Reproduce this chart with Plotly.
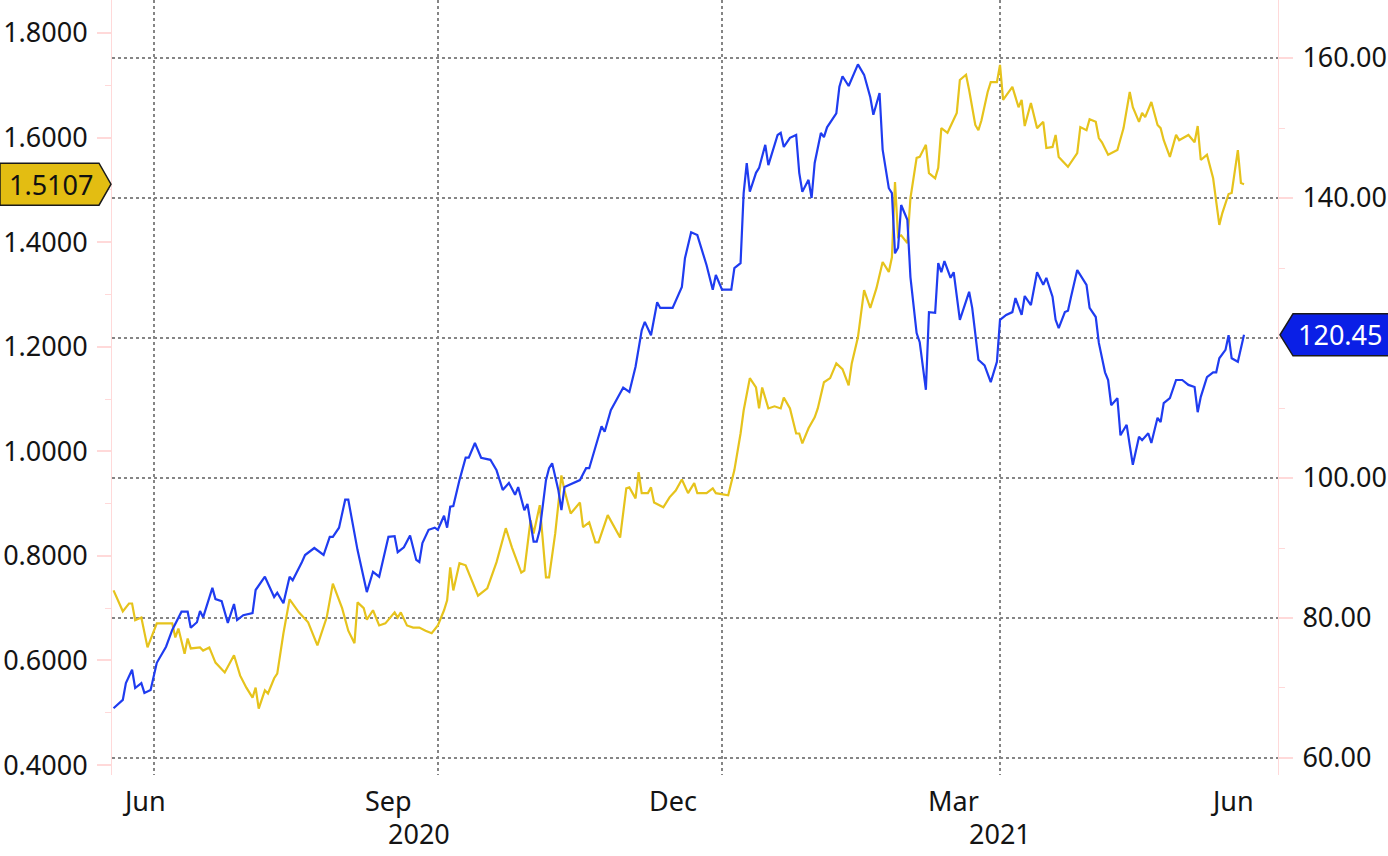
import plotly.graph_objects as go

# ---------------- data ----------------
blue_dates = ["2020-06-18","2020-06-21","2020-06-22","2020-06-24","2020-06-25","2020-06-27","2020-06-28","2020-06-30","2020-07-02","2020-07-05","2020-07-07","2020-07-10","2020-07-12","2020-07-13","2020-07-15","2020-07-16","2020-07-17","2020-07-20","2020-07-21","2020-07-23","2020-07-25","2020-07-27","2020-07-28","2020-07-30","2020-08-02","2020-08-03","2020-08-06","2020-08-09","2020-08-10","2020-08-12","2020-08-14","2020-08-15","2020-08-18","2020-08-19","2020-08-22","2020-08-25","2020-08-27","2020-08-28","2020-08-30","2020-09-01","2020-09-02","2020-09-05","2020-09-08","2020-09-10","2020-09-12","2020-09-15","2020-09-17","2020-09-18","2020-09-20","2020-09-22","2020-09-24","2020-09-25","2020-09-26","2020-09-28","2020-09-30","2020-10-01","2020-10-03","2020-10-04","2020-10-05","2020-10-06","2020-10-08","2020-10-10","2020-10-11","2020-10-13","2020-10-15","2020-10-18","2020-10-20","2020-10-22","2020-10-24","2020-10-26","2020-10-27","2020-10-29","2020-10-30","2020-11-01","2020-11-02","2020-11-03","2020-11-05","2020-11-06","2020-11-07","2020-11-09","2020-11-10","2020-11-11","2020-11-16","2020-11-18","2020-11-19","2020-11-21","2020-11-22","2020-11-23","2020-11-24","2020-11-26","2020-11-29","2020-11-30","2020-12-02","2020-12-04","2020-12-06","2020-12-07","2020-12-09","2020-12-11","2020-12-12","2020-12-16","2020-12-19","2020-12-20","2020-12-22","2020-12-24","2020-12-27","2020-12-29","2020-12-30","2021-01-01","2021-01-04","2021-01-05","2021-01-07","2021-01-08","2021-01-09","2021-01-10","2021-01-12","2021-01-13","2021-01-15","2021-01-16","2021-01-19","2021-01-20","2021-01-21","2021-01-23","2021-01-25","2021-01-26","2021-01-27","2021-01-29","2021-01-30","2021-01-31","2021-02-02","2021-02-03","2021-02-04","2021-02-07","2021-02-08","2021-02-09","2021-02-11","2021-02-14","2021-02-16","2021-02-18","2021-02-19","2021-02-21","2021-02-22","2021-02-24","2021-02-25","2021-02-26","2021-02-27","2021-02-28","2021-03-02","2021-03-03","2021-03-05","2021-03-06","2021-03-08","2021-03-09","2021-03-11","2021-03-12","2021-03-13","2021-03-14","2021-03-16","2021-03-17","2021-03-19","2021-03-22","2021-03-23","2021-03-25","2021-03-27","2021-03-29","2021-03-31","2021-04-01","2021-04-03","2021-04-05","2021-04-06","2021-04-08","2021-04-09","2021-04-11","2021-04-13","2021-04-15","2021-04-16","2021-04-18","2021-04-19","2021-04-20","2021-04-22","2021-04-23","2021-04-24","2021-04-26","2021-04-29","2021-04-30","2021-05-02","2021-05-03","2021-05-05","2021-05-06","2021-05-07","2021-05-09","2021-05-10","2021-05-12","2021-05-13","2021-05-14","2021-05-16","2021-05-17","2021-05-19","2021-05-20","2021-05-22","2021-05-23","2021-05-24","2021-05-26","2021-05-28","2021-05-30","2021-06-01","2021-06-03","2021-06-04","2021-06-05","2021-06-07","2021-06-09","2021-06-10","2021-06-11","2021-06-13","2021-06-14","2021-06-15","2021-06-17","2021-06-19"]
blue_values = [67.1,68.3,70.7,72.6,70.0,70.7,69.3,69.7,73.6,75.9,78.3,80.9,80.9,78.6,79.4,81.0,80.1,84.3,82.7,82.4,79.3,82.0,79.7,80.4,80.7,84.0,85.9,83.0,83.6,82.1,85.9,85.4,88.0,89.0,90.0,89.0,91.6,91.6,92.9,96.9,96.9,89.7,83.7,86.6,85.9,91.6,91.7,89.4,90.1,91.8,88.3,88.0,90.7,92.6,92.9,92.6,94.6,92.9,95.9,96.0,99.7,102.9,102.9,105.0,102.9,102.6,101.1,98.3,99.3,97.6,98.7,95.4,96.3,90.9,90.9,92.6,99.7,101.4,102.1,98.3,95.4,98.7,99.7,101.4,101.4,104.4,105.6,107.4,106.6,109.7,112.1,112.9,112.3,115.9,121.1,122.3,120.4,125.1,124.3,124.3,127.3,131.4,135.1,134.7,130.4,126.9,129.0,126.9,126.9,130.0,130.7,140.7,145.0,140.9,143.6,144.3,147.6,144.7,149.0,149.3,147.3,148.6,149.0,143.6,140.9,142.6,140.0,145.0,149.3,148.7,150.1,152.1,155.9,157.4,156.0,159.1,157.6,154.4,151.9,155.0,146.9,141.4,140.7,132.1,132.9,139.0,136.9,128.7,120.7,119.4,112.6,123.7,123.6,130.7,129.4,131.0,128.6,129.4,122.6,126.6,124.3,116.9,116.1,113.7,116.6,122.6,123.3,123.7,125.7,123.3,126.0,124.7,129.4,127.6,128.6,125.9,122.6,121.4,123.7,123.9,125.9,129.7,127.6,124.3,123.0,119.3,115.1,114.0,110.4,111.4,106.1,107.6,104.7,101.9,105.9,105.4,106.4,105.0,108.6,108.0,110.7,111.4,114.0,114.0,113.3,113.0,109.4,111.6,114.4,115.1,115.1,117.1,118.3,120.4,117.1,116.6,120.45]

yellow_dates = ["2020-06-18","2020-06-20","2020-06-21","2020-06-23","2020-06-24","2020-06-25","2020-06-27","2020-06-29","2020-07-01","2020-07-02","2020-07-05","2020-07-07","2020-07-08","2020-07-09","2020-07-11","2020-07-12","2020-07-13","2020-07-16","2020-07-17","2020-07-19","2020-07-21","2020-07-24","2020-07-27","2020-07-29","2020-07-31","2020-08-02","2020-08-03","2020-08-04","2020-08-06","2020-08-07","2020-08-09","2020-08-10","2020-08-12","2020-08-14","2020-08-17","2020-08-20","2020-08-23","2020-08-26","2020-08-28","2020-08-31","2020-09-02","2020-09-04","2020-09-05","2020-09-07","2020-09-08","2020-09-10","2020-09-12","2020-09-14","2020-09-17","2020-09-18","2020-09-19","2020-09-21","2020-09-23","2020-09-25","2020-09-27","2020-09-29","2020-10-01","2020-10-03","2020-10-04","2020-10-05","2020-10-06","2020-10-08","2020-10-10","2020-10-14","2020-10-17","2020-10-20","2020-10-23","2020-10-25","2020-10-28","2020-10-29","2020-10-31","2020-11-01","2020-11-03","2020-11-05","2020-11-06","2020-11-08","2020-11-10","2020-11-11","2020-11-13","2020-11-16","2020-11-17","2020-11-19","2020-11-21","2020-11-22","2020-11-25","2020-11-29","2020-12-01","2020-12-02","2020-12-04","2020-12-05","2020-12-06","2020-12-08","2020-12-09","2020-12-10","2020-12-13","2020-12-15","2020-12-17","2020-12-19","2020-12-21","2020-12-23","2020-12-24","2020-12-27","2020-12-29","2020-12-30","2021-01-03","2021-01-05","2021-01-07","2021-01-08","2021-01-10","2021-01-12","2021-01-13","2021-01-14","2021-01-16","2021-01-18","2021-01-20","2021-01-21","2021-01-23","2021-01-25","2021-01-26","2021-01-27","2021-01-29","2021-01-31","2021-02-01","2021-02-03","2021-02-05","2021-02-07","2021-02-09","2021-02-11","2021-02-12","2021-02-14","2021-02-16","2021-02-18","2021-02-20","2021-02-22","2021-02-24","2021-02-25","2021-02-26","2021-02-27","2021-02-28","2021-03-02","2021-03-03","2021-03-05","2021-03-06","2021-03-08","2021-03-09","2021-03-11","2021-03-12","2021-03-13","2021-03-15","2021-03-18","2021-03-19","2021-03-21","2021-03-22","2021-03-24","2021-03-25","2021-03-26","2021-03-28","2021-03-29","2021-03-31","2021-04-01","2021-04-02","2021-04-05","2021-04-07","2021-04-08","2021-04-09","2021-04-11","2021-04-13","2021-04-15","2021-04-16","2021-04-18","2021-04-19","2021-04-20","2021-04-23","2021-04-26","2021-04-27","2021-04-29","2021-04-30","2021-05-02","2021-05-03","2021-05-04","2021-05-06","2021-05-09","2021-05-11","2021-05-13","2021-05-14","2021-05-16","2021-05-17","2021-05-18","2021-05-20","2021-05-22","2021-05-23","2021-05-24","2021-05-26","2021-05-28","2021-05-29","2021-06-01","2021-06-03","2021-06-04","2021-06-05","2021-06-07","2021-06-09","2021-06-10","2021-06-11","2021-06-12","2021-06-14","2021-06-15","2021-06-17","2021-06-18","2021-06-19"]
yellow_values = [0.734,0.709,0.694,0.709,0.709,0.677,0.682,0.625,0.654,0.671,0.671,0.671,0.644,0.661,0.613,0.642,0.623,0.625,0.619,0.625,0.596,0.577,0.610,0.571,0.548,0.529,0.548,0.508,0.543,0.537,0.566,0.575,0.652,0.717,0.692,0.673,0.629,0.682,0.747,0.700,0.657,0.633,0.711,0.700,0.678,0.696,0.667,0.671,0.692,0.682,0.692,0.667,0.663,0.663,0.657,0.652,0.667,0.696,0.715,0.778,0.734,0.786,0.782,0.724,0.738,0.788,0.853,0.816,0.768,0.772,0.868,0.843,0.897,0.759,0.759,0.843,0.954,0.925,0.881,0.902,0.855,0.864,0.826,0.826,0.878,0.835,0.929,0.931,0.910,0.960,0.920,0.920,0.931,0.902,0.893,0.912,0.925,0.946,0.920,0.939,0.920,0.920,0.929,0.920,0.916,0.964,1.034,1.078,1.140,1.122,1.082,1.122,1.082,1.086,1.082,1.103,1.082,1.034,1.034,1.015,1.044,1.065,1.082,1.132,1.140,1.168,1.157,1.126,1.168,1.218,1.308,1.274,1.312,1.362,1.343,1.371,1.515,1.410,1.413,1.398,1.484,1.561,1.563,1.586,1.532,1.522,1.542,1.618,1.609,1.647,1.710,1.720,1.691,1.624,1.614,1.633,1.687,1.706,1.706,1.739,1.672,1.697,1.658,1.672,1.622,1.666,1.618,1.630,1.580,1.582,1.605,1.563,1.544,1.570,1.620,1.614,1.635,1.630,1.599,1.591,1.567,1.576,1.618,1.687,1.658,1.630,1.647,1.639,1.668,1.624,1.618,1.595,1.563,1.605,1.595,1.605,1.591,1.622,1.557,1.567,1.522,1.475,1.433,1.456,1.492,1.494,1.576,1.513,1.5107]

grid_dates = ["2020-07-01", "2020-10-01", "2021-01-01", "2021-04-01"]
month_labels = ["Jun", "Sep", "Dec", "Mar", "Jun"]
month_label_dates = ["2020-06-28", "2020-09-15", "2020-12-16", "2021-03-17", "2021-06-15"]
year_labels = ["2020", "2021"]
year_label_dates = ["2020-09-25", "2021-04-01"]
x_range = ["2020-06-17 12:00", "2021-06-30"]
left_range = [0.381, 1.863]
right_range = [57.57, 168.29]

# ---------------- style ----------------
BLUE = "#1f3cf0"
YELLOW = "#e6c31c"
TAG_BLUE = "#0a1fe6"
TAG_YELLOW = "#e3bd12"
PINK = "#ffd9d9"
GRID = "#858585"
FONT = "Noto Sans, DejaVu Sans, sans-serif"
FS = 27
TXT = "#141414"

W, H = 1388, 856
ML, MR, MT, MB = 112, 110, 0, 81
PW, PH = W - ML - MR, H - MT - MB

fig = go.Figure()
fig.add_trace(go.Scatter(x=yellow_dates, y=yellow_values, mode="lines",
                         line=dict(color=YELLOW, width=2.2), yaxis="y", name="yellow"))
fig.add_trace(go.Scatter(x=blue_dates, y=blue_values, mode="lines",
                         line=dict(color=BLUE, width=2.2), yaxis="y2", name="blue"))

fig.update_layout(
    width=W, height=H,
    margin=dict(l=ML, r=MR, t=MT, b=MB, pad=0),
    paper_bgcolor="white", plot_bgcolor="white",
    showlegend=False,
    font=dict(family=FONT, size=FS, color=TXT),
    xaxis=dict(range=x_range, type="date", tickvals=grid_dates, showticklabels=False,
               showgrid=True, gridcolor=GRID, gridwidth=2, griddash="dot",
               showline=False, zeroline=False, ticks="", automargin=False),
    yaxis=dict(range=left_range, tick0=0.4, dtick=0.2, tickformat=".4f", automargin=False,
               showgrid=False, zeroline=False, showline=True, linecolor=PINK, linewidth=1,
               ticks="outside", ticklen=14, tickwidth=2, tickcolor=PINK,
               ticklabelstandoff=4,
               minor=dict(dtick=0.1, ticks="outside", ticklen=6, tickcolor=PINK, tickwidth=1, showgrid=False),
               tickfont=dict(family=FONT, size=FS, color=TXT)),
    yaxis2=dict(range=right_range, overlaying="y", side="right", tick0=60, dtick=20, automargin=False,
                tickformat=".2f", showgrid=True, gridcolor=GRID, gridwidth=2, griddash="dot",
                zeroline=False, showline=True, linecolor=PINK, linewidth=1,
                ticks="outside", ticklen=14, tickwidth=2, tickcolor=PINK,
                ticklabelstandoff=4,
                minor=dict(dtick=10, ticks="outside", ticklen=6, tickcolor=PINK, tickwidth=1, showgrid=False),
                tickfont=dict(family=FONT, size=FS, color=TXT)),
)

# month / year labels
ann = []
for lab, d in zip(month_labels, month_label_dates):
    ann.append(dict(x=d, xref="x", y=-25 / PH, yref="paper", text=lab, showarrow=False,
                    xanchor="center", yanchor="middle", font=dict(family=FONT, size=FS, color=TXT)))
for lab, d in zip(year_labels, year_label_dates):
    ann.append(dict(x=d, xref="x", y=-58 / PH, yref="paper", text=lab, showarrow=False,
                    xanchor="center", yanchor="middle", font=dict(family=FONT, size=FS, color=TXT)))

# last-value tags
y_last = yellow_values[-1]
b_last = blue_values[-1]
lpx = (left_range[1] - left_range[0]) / PH    # units per pixel, left axis
rpx = (right_range[1] - right_range[0]) / PH  # units per pixel, right axis

def px_x(p):
    return (p - ML) / PW

hh = 21
lx0, lx1, lx2 = px_x(0), px_x(99), px_x(111)
path_y = (f"M {lx0},{y_last - hh*lpx} L {lx1},{y_last - hh*lpx} L {lx2},{y_last} "
          f"L {lx1},{y_last + hh*lpx} L {lx0},{y_last + hh*lpx} Z")
rx0, rx1, rx2 = px_x(1280), px_x(1293), px_x(1390)
path_b = (f"M {rx0},{b_last} L {rx1},{b_last - hh*rpx} L {rx2},{b_last - hh*rpx} "
          f"L {rx2},{b_last + hh*rpx} L {rx1},{b_last + hh*rpx} Z")
fig.add_shape(type="path", path=path_y, xref="paper", yref="y",
              fillcolor=TAG_YELLOW, line=dict(color="#1a1a1a", width=1.5), layer="above")
fig.add_shape(type="path", path=path_b, xref="paper", yref="y2",
              fillcolor=TAG_BLUE, line=dict(color="#1a1a1a", width=1.5), layer="above")

ann.append(dict(x=px_x(51), xref="paper", y=y_last, yref="y", text=f"{y_last:.4f}",
                showarrow=False, xanchor="center", yanchor="middle",
                font=dict(family=FONT, size=FS, color="#111111")))
ann.append(dict(x=px_x(1340), xref="paper", y=b_last, yref="y2", text=f"{b_last:.2f}",
                showarrow=False, xanchor="center", yanchor="middle",
                font=dict(family=FONT, size=FS, color="white")))
fig.update_layout(annotations=ann)

fig.write_html("out.html",
               config={"displayModeBar": False},
               post_script="document.body.style.margin='0';document.body.style.padding='0';"
                           "document.body.style.overflow='hidden';")
